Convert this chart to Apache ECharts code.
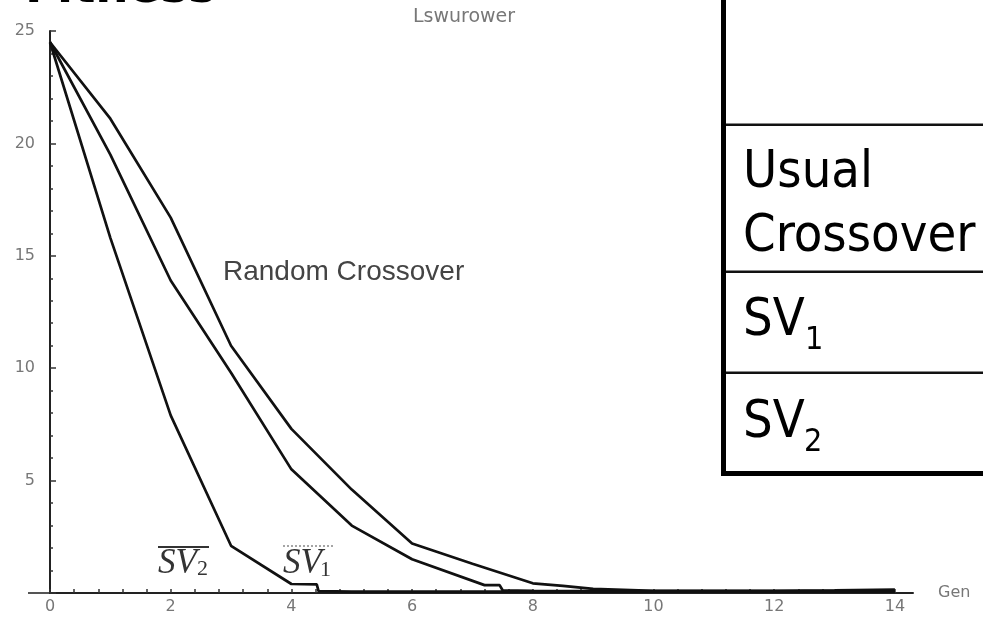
<!DOCTYPE html>
<html>
<head>
<meta charset="utf-8">
<script src="https://cdn.jsdelivr.net/npm/echarts@6/dist/echarts.min.js"></script>
<style>html,body{margin:0;padding:0;background:#fff;}#c{width:983px;height:618px;}</style>
</head>
<body>
<div id="c"></div>
<script>
// ---- data ----
const xLabelValues = [0, 2, 4, 6, 8, 10, 12, 14];
const yLabelValues = [0, 5, 10, 15, 20, 25];

const randomGen = [0, 1, 2, 3, 4, 5, 6, 7, 8, 8.5, 9, 10, 11, 12, 13, 14];
const randomFit = [24.5, 21.1, 16.7, 11.0, 7.3, 4.6, 2.2, 1.3, 0.43, 0.32, 0.18, 0.1, 0.1, 0.1, 0.12, 0.15];

const sv1Gen = [0, 1, 2, 3, 4, 5, 6, 7.2, 7.45, 7.5, 8, 9, 10, 11, 12, 13, 14];
const sv1Fit = [24.5, 19.5, 13.9, 9.8, 5.5, 3.0, 1.5, 0.35, 0.35, 0.12, 0.1, 0.08, 0.08, 0.08, 0.08, 0.08, 0.08];

const sv2Gen = [0, 1, 2, 3, 4, 4.42, 4.45, 5, 6, 7, 8, 9, 10, 11, 12, 13, 14];
const sv2Fit = [24.5, 15.8, 7.9, 2.1, 0.4, 0.38, 0.08, 0.06, 0.06, 0.06, 0.06, 0.06, 0.06, 0.06, 0.06, 0.06, 0.06];

const tableRows = ['Usual', 'Crossover', 'SV', 'SV'];
const tableSubs = ['1', '2'];

function pairs(xs, ys) { return xs.map((x, i) => [x, ys[i]]); }
const xTicks = [];
for (let i = 0; i <= 35; i++) xTicks.push(+(i * 0.4).toFixed(1));

const chart = echarts.init(document.getElementById('c'), null, { renderer: 'canvas' });
const lineStyle = { color: '#111', width: 2.7 };
const tableFont = "'DejaVu Sans Condensed', 'DejaVu Sans', sans-serif";

chart.setOption({
  animation: false,
  backgroundColor: '#fff',
  grid: { left: 50, top: 31, width: 863, height: 562, containLabel: false, outerBoundsMode: 'none' },
  xAxis: {
    type: 'value', min: 0, max: 14.3,
    name: 'Gen', nameLocation: 'end', nameGap: 25,
    nameTextStyle: { color: '#777', fontSize: 16, fontFamily: 'DejaVu Sans', padding: [0, 0, 12, 0] },
    axisLine: { show: true, onZero: false, lineStyle: { color: '#222', width: 2 } },
    axisTick: { show: true, inside: true, length: 4, customValues: xTicks, lineStyle: { color: '#333', width: 1.5 } },
    axisLabel: { customValues: xLabelValues, color: '#777', fontSize: 16, fontFamily: 'DejaVu Sans', margin: 6 },
    splitLine: { show: false }
  },
  yAxis: {
    type: 'value', min: 0, max: 25, interval: 5,
    axisLine: { show: true, lineStyle: { color: '#222', width: 2 } },
    axisTick: { show: true, inside: true, length: 6, lineStyle: { color: '#333', width: 1.5 } },
    minorTick: { show: true, splitNumber: 5, length: 3, lineStyle: { color: '#333', width: 1.5 } },
    axisLabel: { color: '#777', fontSize: 16, fontFamily: 'DejaVu Sans', margin: 15,
      formatter: v => (yLabelValues.indexOf(v) > 0 ? String(v) : '') },
    splitLine: { show: false }
  },
  series: [
    { name: 'Random Crossover', type: 'line', data: pairs(randomGen, randomFit), showSymbol: false, lineStyle: lineStyle },
    { name: 'SV1', type: 'line', data: pairs(sv1Gen, sv1Fit), showSymbol: false, lineStyle: lineStyle },
    { name: 'SV2', type: 'line', data: pairs(sv2Gen, sv2Fit), showSymbol: false, lineStyle: lineStyle }
  ],
  graphic: [
    // x axis stub left of the y axis
    { type: 'line', shape: { x1: 28, y1: 593, x2: 50, y2: 593 }, style: { stroke: '#555', lineWidth: 2 } },
    // title (cut off at the top)
    { type: 'text', x: 25, y: -11.5, style: { text: 'Fitness', fill: '#000', font: "bold 52px " + tableFont, verticalAlign: 'middle' } },
    // faint scanned caption
    { type: 'text', x: 413, y: 17.5, style: { text: 'Lswurower', fill: '#777', font: "19px 'DejaVu Sans'", verticalAlign: 'middle' } },
    // Random Crossover label
    { type: 'text', x: 223, y: 272, style: { text: 'Random Crossover', fill: '#444', font: "28px 'Liberation Sans'", verticalAlign: 'middle' } },
    // SV2 label
    { type: 'text', x: 158, y: 563.5, style: { text: 'SV', fill: '#333', font: "italic 35px 'Liberation Serif'", verticalAlign: 'middle' } },
    { type: 'text', x: 197, y: 569.5, style: { text: '2', fill: '#333', font: "22px 'Liberation Serif'", verticalAlign: 'middle' } },
    { type: 'line', shape: { x1: 158, y1: 547, x2: 209, y2: 547 }, style: { stroke: '#333', lineWidth: 2 } },
    // SV1 label
    { type: 'text', x: 283, y: 563.5, style: { text: 'SV', fill: '#333', font: "italic 35px 'Liberation Serif'", verticalAlign: 'middle' } },
    { type: 'text', x: 320, y: 570.5, style: { text: '1', fill: '#333', font: "22px 'Liberation Serif'", verticalAlign: 'middle' } },
    { type: 'line', shape: { x1: 283, y1: 546, x2: 333, y2: 546 }, style: { stroke: '#888', lineWidth: 1.5, lineDash: [2, 2] } },
    // table frame
    { type: 'rect', shape: { x: 721, y: 0, width: 5, height: 476 }, style: { fill: '#000' } },
    { type: 'rect', shape: { x: 721, y: 471, width: 262, height: 5 }, style: { fill: '#000' } },
    { type: 'rect', shape: { x: 726, y: 123.5, width: 257, height: 2.5 }, style: { fill: '#111' } },
    { type: 'rect', shape: { x: 726, y: 270.5, width: 257, height: 2.5 }, style: { fill: '#111' } },
    { type: 'rect', shape: { x: 726, y: 371.5, width: 257, height: 2.5 }, style: { fill: '#111' } },
    // table text
    { type: 'text', x: 743, y: 173.5, style: { text: tableRows[0], fill: '#000', font: "52px " + tableFont, verticalAlign: 'middle' } },
    { type: 'text', x: 743, y: 237, style: { text: tableRows[1], fill: '#000', font: "52px " + tableFont, verticalAlign: 'middle' } },
    { type: 'text', x: 743, y: 321, style: { text: tableRows[2], fill: '#000', font: "52px " + tableFont, verticalAlign: 'middle' } },
    { type: 'text', x: 805, y: 341, style: { text: tableSubs[0], fill: '#000', font: "32px " + tableFont, verticalAlign: 'middle' } },
    { type: 'text', x: 743, y: 423, style: { text: tableRows[3], fill: '#000', font: "52px " + tableFont, verticalAlign: 'middle' } },
    { type: 'text', x: 804, y: 443, style: { text: tableSubs[1], fill: '#000', font: "32px " + tableFont, verticalAlign: 'middle' } }
  ]
});
</script>
</body>
</html>
